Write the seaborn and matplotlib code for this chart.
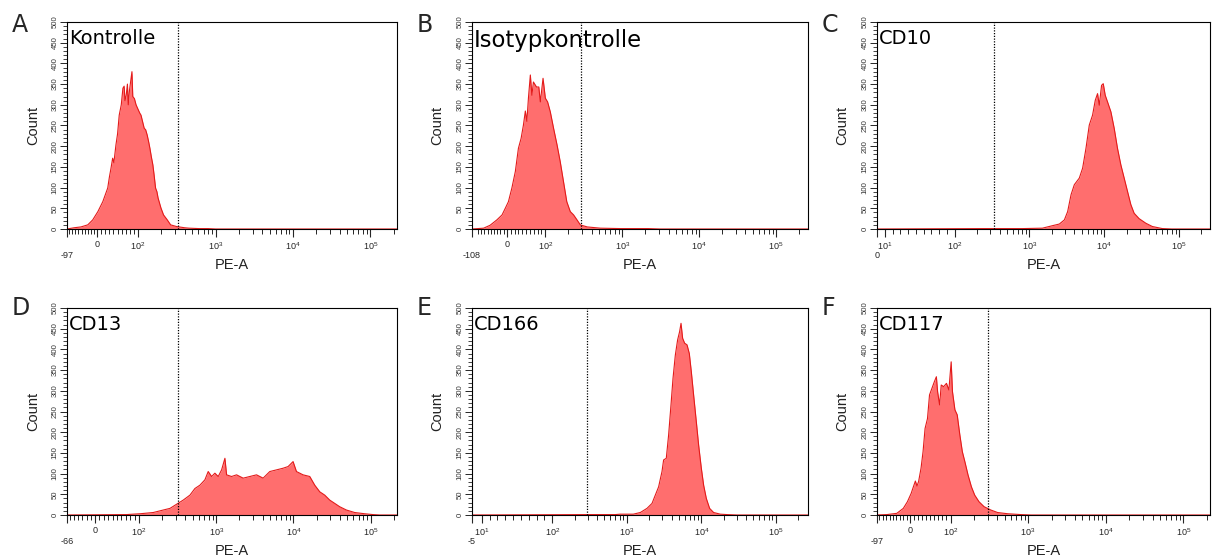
import numpy as np
import matplotlib
matplotlib.use("Agg")
import matplotlib.pyplot as plt
import seaborn as sns

# =========================
# DATA (PE-A intensity vs. event count)
# =========================

panel_letters = ["A", "B", "C", "D", "E", "F"]
panel_names = ["Kontrolle", "Isotypkontrolle", "CD10", "CD13", "CD166", "CD117"]

a_vals = [-97, -74, -52, -30, -14, 2, 14, 26, 30, 34, 38, 41, 46, 50, 54, 59, 63, 66, 68, 71,
          74, 76, 79, 85, 87, 91, 95, 99, 105, 109, 114, 120, 125, 131, 137, 142, 148, 155, 161, 168,
          175, 181, 197, 213, 238, 263, 313, 399, 454, 610, 800, 1000, 220000]
a_counts = [0, 3, 5, 10, 22, 42, 66, 99, 125, 147, 171, 160, 203, 230, 275, 300, 340, 345, 310, 323,
            350, 300, 335, 380, 320, 315, 300, 291, 280, 275, 260, 243, 240, 227, 210, 195, 175, 155, 130, 99,
            90, 75, 51, 34, 22, 10, 6, 3, 2, 1, 1, 0, 0]

b_vals = [-108, -72, -52, -31, -15, -5, 4, 13, 22, 30, 37, 43, 48, 52, 56, 61, 65, 69, 77, 83,
          87, 94, 100, 107, 116, 128, 142, 156, 172, 190, 211, 233, 258, 285, 350, 520, 950, 2170, 3100, 260000]
b_counts = [0, 2, 9, 22, 34, 50, 66, 99, 139, 195, 219, 251, 285, 260, 316, 372, 323, 355, 343, 343,
            307, 364, 316, 307, 283, 243, 203, 163, 115, 66, 42, 34, 22, 10, 5, 2, 1, 1, 0, 0]

c_vals = [0, 251, 398, 814, 1490, 2030, 2510, 2930, 3240, 3600, 3980, 4640, 5140, 5700, 6310, 6980,
          7590, 8140, 8580, 9210, 9700, 10310, 11070, 12280, 13600, 15040, 16680, 18480, 20470, 22690,
          25120, 29290, 35970, 44060, 59870, 80000, 260000]
c_counts = [0, 1, 1, 1, 2, 8, 12, 22, 42, 83, 107, 123, 147, 195, 251, 275,
            311, 327, 299, 347, 351, 323, 307, 283, 243, 195, 155, 123, 91, 59,
            38, 25, 14, 6, 1, 0, 0]

d_vals = [-66, 72, 86, 103, 153, 206, 252, 307, 374, 457, 530, 615, 714, 788, 872, 962, 1062, 1175,
          1297, 1364, 1582, 1836, 2235, 2730, 3330, 4055, 4950, 6040, 7360, 8540, 9910, 10960, 13340,
          16300, 18920, 21970, 25470, 29580, 34340, 39810, 48640, 62230, 83950, 107400, 130900, 220000]
d_counts = [0, 1, 2, 3, 6, 12, 16, 26, 36, 48, 64, 72, 85, 105, 93, 101, 93, 109,
            137, 97, 93, 97, 89, 93, 97, 89, 105, 109, 113, 117, 129, 105, 97,
            93, 72, 56, 48, 36, 28, 20, 12, 6, 3, 1, 0, 0]

e_vals = [-5, 300, 520, 700, 818, 1222, 1518, 1866, 2180, 2413, 2673, 2967, 3119, 3388, 3639, 3918,
          4169, 4478, 4808, 5115, 5341, 5610, 5970, 6430, 6900, 7340, 7880, 8570, 9200, 10000, 10740,
          11670, 12920, 14630, 17990, 22130, 30000, 270000]
e_counts = [0, 1, 1, 1, 2, 2, 6, 16, 28, 48, 68, 105, 133, 137, 193, 266,
            330, 386, 423, 443, 463, 427, 415, 411, 390, 346, 290, 225, 169, 113, 72,
            40, 16, 6, 2, 1, 0, 0]

f_vals = [-97, -68, -39, -20, -8, 2.5, 8, 13, 17, 21, 27, 32, 37, 43, 48, 54, 60, 65, 68, 73,
          77, 83, 90, 96, 102, 106, 114, 122, 132, 142, 153, 168, 186, 205, 233, 271, 331, 404, 546, 810,
          1090, 220000]
f_counts = [0, 1, 4, 16, 32, 52, 68, 82, 70, 81, 113, 153, 209, 233, 290, 306, 322, 334, 298, 266,
            314, 310, 318, 302, 370, 298, 254, 242, 193, 153, 129, 97, 68, 48, 32, 20, 12, 6, 3, 1,
            0, 0]

gate_values = [328, 291, 331, 322, 292, 300]

x_left = [-97, -108, 0, -66, -5, -97]
x_right = [220000, 260000, 260000, 220000, 270000, 220000]
x_left_labels = ["-97", "-108", "0", "-66", "-5", "-97"]
decade_labels = ["$10^2$", "$10^3$", "$10^4$", "$10^5$"]

y_ticks = list(range(0, 501, 50))

all_vals = [a_vals, b_vals, c_vals, d_vals, e_vals, f_vals]
all_counts = [a_counts, b_counts, c_counts, d_counts, e_counts, f_counts]

# =========================
# STYLE / LAYOUT
# =========================

sns.set_style("ticks")
plt.rcParams["font.family"] = ["Liberation Sans", "DejaVu Sans"]
plt.rcParams["mathtext.default"] = "regular"

FILL = "#ff6e6e"
EDGE = "#e31a1a"
W, H = 1214, 560

# display scale of each panel: (decades for 0..100, decades for 0..-100)
scales = [(0.53, 0.40), (0.50, 0.42), (1.04, 0.50), (0.57, 0.55), (1.05, 0.54), (0.52, 0.44)]
col_boxes = [(67, 330), (472, 336), (877, 333)]
row_boxes = [(22, 207), (308, 207)]
letter_drop = [10, 7]
name_sizes = [14, 16.4, 14, 14, 14, 14]


def make_scale(lin, neg, T=100.0):
    def fwd(x):
        x = np.asarray(x, dtype=float)
        out = np.where(x < 0, x / T * neg, x / T * lin)
        big = x > T
        return np.where(big, lin + np.log10(np.where(big, x, T) / T), out)

    def inv(d):
        d = np.asarray(d, dtype=float)
        out = np.where(d < 0, d / neg * T, d / lin * T)
        big = d > lin
        return np.where(big, T * 10 ** (np.where(big, d, lin) - lin), out)

    return fwd, inv


fig = plt.figure(figsize=(W / 100, H / 100), dpi=100)

for i in range(6):
    row, col = divmod(i, 3)
    left, width = col_boxes[col]
    top, height = row_boxes[row]
    ax = fig.add_axes([left / W, 1 - (top + height) / H, width / W, height / H])

    lin, neg = scales[i]
    ax.set_xscale("function", functions=make_scale(lin, neg))

    vals = np.array(all_vals[i], dtype=float)
    counts = np.array(all_counts[i], dtype=float)

    ax.fill_between(vals, counts, 0, color=FILL, linewidth=0, zorder=1)
    sns.lineplot(x=vals, y=counts, ax=ax, color=EDGE, linewidth=0.8,
                 estimator=None, sort=False, legend=False, zorder=2)

    ax.axvline(gate_values[i], color="black", linestyle=(0, (1, 1.2)), linewidth=0.9, zorder=3)

    ax.set_xlim(x_left[i], x_right[i])
    ax.set_ylim(0, 500)

    # x ticks
    if x_left[i] < 0 and i != 4:
        major = [x_left[i], 0, 100, 1000, 10000, 100000]
        labels = ["\n" + x_left_labels[i], "0"] + decade_labels
        lin_minor = [v for v in range(-90, 100, 10) if v != 0 and v > x_left[i]]
    else:
        major = [x_left[i], 10, 100, 1000, 10000, 100000]
        labels = ["\n" + x_left_labels[i], "$10^1$"] + decade_labels
        lin_minor = list(range(20, 100, 10))
    log_minor = [k * 10 ** e for e in (2, 3, 4) for k in range(2, 10)]
    log_minor += [2e5] if 2e5 < x_right[i] else []
    ax.set_xticks(major, labels)
    ax.set_xticks(lin_minor + log_minor, minor=True)

    # y ticks
    ax.set_yticks(y_ticks, [str(v) for v in y_ticks])
    ax.set_yticks(range(0, 501, 10), minor=True)

    ax.tick_params(axis="x", which="major", direction="out", length=6, width=0.8, labelsize=6.5, pad=2)
    ax.tick_params(axis="x", which="minor", direction="out", length=3.5, width=0.7)
    ax.tick_params(axis="y", which="major", direction="out", length=5, width=0.7, labelsize=5.6,
                   pad=1.2, labelrotation=90, labelcolor="#333333")
    ax.tick_params(axis="y", which="minor", direction="out", length=3, width=0.6)
    for lab in ax.get_yticklabels():
        lab.set_verticalalignment("center")

    for sp in ax.spines.values():
        sp.set_visible(True)
        sp.set_linewidth(0.8)
        sp.set_color("black")

    ax.set_xlabel("PE-A", fontsize=10.5, color="#222222")
    ax.xaxis.set_label_coords(0.5, -0.14)
    ax.set_ylabel("Count", fontsize=10.5, color="#222222")
    ax.yaxis.set_label_coords(-0.082, 0.5)

    ax.text(0.006, 0.965, panel_names[i], transform=ax.transAxes, ha="left", va="top",
            fontsize=name_sizes[i], family="DejaVu Sans", color="black", zorder=4)

    fig.text((left - 55) / W, 1 - (top + letter_drop[row]) / H, panel_letters[i],
             fontsize=17, family="DejaVu Sans", va="baseline", ha="left")

fig.savefig("out.png", dpi=100, facecolor="white")
plt.close(fig)
